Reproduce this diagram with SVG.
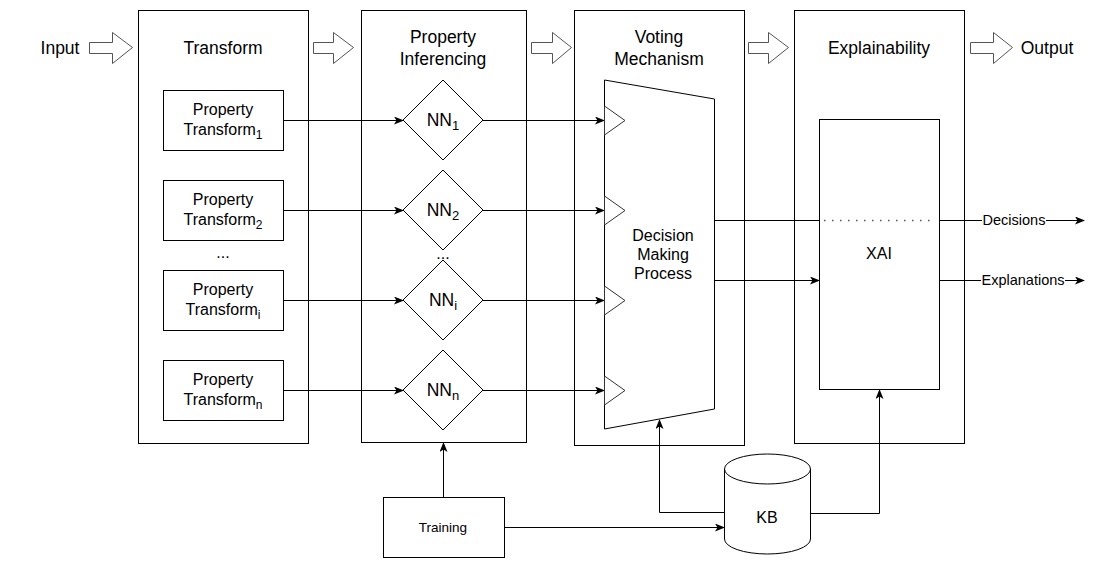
<svg xmlns="http://www.w3.org/2000/svg" width="1108" height="568" viewBox="0 0 1108 568">
<defs>
<style>
text{font-family:"Liberation Sans",Helvetica,Arial,sans-serif;fill:#000;text-anchor:middle}
.box{fill:#fff;stroke:#000;stroke-width:1}
.t{font-size:17.5px}
.p{font-size:16px}
.e{font-size:14.5px}
.blk{fill:#fff;stroke:#555;stroke-width:1}
.ln{fill:none;stroke:#000;stroke-width:1}
.arr{fill:none;stroke:#000;stroke-width:1;marker-end:url(#ah)}
</style>
<marker id="ah" viewBox="0 0 10 8" refX="9" refY="4" markerWidth="10" markerHeight="8" markerUnits="userSpaceOnUse" orient="auto">
<path d="M0,0 L10,4 L0,8 L2.5,4 z" fill="#000"/>
</marker>
</defs>
<rect width="1108" height="568" fill="#fff"/>

<g id="input">
<text class="t" x="60" y="54">Input</text>
<polygon class="blk" points="89.5,42.5 112.5,42.5 112.5,32.5 132.5,47.5 112.5,63.5 112.5,53.5 89.5,53.5"/>
</g>

<g id="transform">
<rect class="box" x="138.5" y="10.5" width="170" height="433"/>
<text class="t" x="223" y="54">Transform</text>
</g>
<g id="pt1">
<rect class="box" x="163.5" y="90.5" width="120" height="60"/>
<text class="p" x="223" y="115">Property</text>
<text class="p" x="223" y="135">Transform<tspan font-size="12" dy="4">1</tspan></text>
</g>
<g id="pt2">
<rect class="box" x="163.5" y="180.5" width="120" height="60"/>
<text class="p" x="223" y="205">Property</text>
<text class="p" x="223" y="225">Transform<tspan font-size="12" dy="4">2</tspan></text>
</g>
<text class="p" x="223" y="258">...</text>
<g id="pti">
<rect class="box" x="163.5" y="270.5" width="120" height="60"/>
<text class="p" x="223" y="295">Property</text>
<text class="p" x="223" y="315">Transform<tspan font-size="12" dy="4">i</tspan></text>
</g>
<g id="ptn">
<rect class="box" x="163.5" y="360.5" width="120" height="60"/>
<text class="p" x="223" y="385">Property</text>
<text class="p" x="223" y="405">Transform<tspan font-size="12" dy="4">n</tspan></text>
</g>

<g id="arrow2"><polygon class="blk" points="313.5,42.5 333.5,42.5 333.5,32.5 353.5,47.5 333.5,63.5 333.5,53.5 313.5,53.5"/></g>

<g id="inferencing">
<rect class="box" x="361.5" y="10.5" width="165" height="432"/>
<text class="t" x="443" y="43">Property</text>
<text class="t" x="443" y="65">Inferencing</text>
</g>
<g id="nn1">
<polygon class="box" points="443,80 483,120 443,160 403,120"/>
<text class="t" x="443" y="126">NN<tspan font-size="13" dy="4">1</tspan></text>
</g>
<g id="nn2">
<polygon class="box" points="443,170 483,210 443,250 403,210"/>
<text class="t" x="443" y="216">NN<tspan font-size="13" dy="4">2</tspan></text>
</g>
<text class="p" x="443" y="259">...</text>
<g id="nni">
<polygon class="box" points="443,260 483,300 443,340 403,300"/>
<text class="t" x="443" y="306">NN<tspan font-size="13" dy="4">i</tspan></text>
</g>
<g id="nnn">
<polygon class="box" points="443,350 483,390 443,430 403,390"/>
<text class="t" x="443" y="396">NN<tspan font-size="13" dy="4">n</tspan></text>
</g>

<g id="arrow3"><polygon class="blk" points="531.5,42.5 552.5,42.5 552.5,32.5 571.5,47.5 552.5,63.5 552.5,53.5 531.5,53.5"/></g>

<g id="voting">
<rect class="box" x="574.5" y="10.5" width="170" height="435"/>
<text class="t" x="659" y="43">Voting</text>
<text class="t" x="659" y="65">Mechanism</text>
</g>

<g id="arrow4"><polygon class="blk" points="748.5,42.5 768.5,42.5 768.5,32.5 788.5,47.5 768.5,63.5 768.5,53.5 748.5,53.5"/></g>

<g id="explainability">
<rect class="box" x="794.5" y="10.5" width="170" height="433"/>
<text class="t" x="879" y="54">Explainability</text>
</g>

<g id="arrow5"><polygon class="blk" points="970.5,42.5 993.5,42.5 993.5,32.5 1012.5,47.5 993.5,63.5 993.5,53.5 970.5,53.5"/></g>
<g id="output"><text class="t" x="1047" y="54">Output</text></g>

<g id="connectors">
<line class="arr" x1="283.5" y1="120.5" x2="403" y2="120.5"/>
<line class="arr" x1="283.5" y1="210.5" x2="403" y2="210.5"/>
<line class="arr" x1="283.5" y1="300.5" x2="403" y2="300.5"/>
<line class="arr" x1="283.5" y1="390.5" x2="403" y2="390.5"/>
<line class="arr" x1="483" y1="120.5" x2="604" y2="120.5"/>
<line class="arr" x1="483" y1="210.5" x2="604" y2="210.5"/>
<line class="arr" x1="483" y1="300.5" x2="604" y2="300.5"/>
<line class="arr" x1="483" y1="390.5" x2="604" y2="390.5"/>
<line class="ln" x1="714" y1="220.5" x2="819" y2="220.5"/>
<line class="arr" x1="714" y1="280.5" x2="819" y2="280.5"/>
<line class="arr" x1="443.5" y1="497" x2="443.5" y2="443"/>
<line class="arr" x1="504" y1="527.5" x2="724" y2="527.5"/>
<polyline class="arr" points="724,512.5 659.5,512.5 659.5,420"/>
<polyline class="arr" points="810,513.5 879.5,513.5 879.5,390"/>
<line class="ln" x1="939" y1="220.5" x2="982" y2="220.5"/>
<line class="arr" x1="1046" y1="220.5" x2="1084" y2="220.5"/>
<line class="ln" x1="939" y1="280.5" x2="981" y2="280.5"/>
<line class="arr" x1="1065" y1="280.5" x2="1084" y2="280.5"/>
</g>

<g id="decision">
<polygon class="box" points="604.5,80 714.5,99 714.5,409 604.5,429"/>
<polygon fill="#fff" stroke="#333" stroke-width="1" points="604.5,106 625,120.5 604.5,135"/>
<polygon fill="#fff" stroke="#333" stroke-width="1" points="604.5,196 625,210.5 604.5,225"/>
<polygon fill="#fff" stroke="#333" stroke-width="1" points="604.5,286 625,300.5 604.5,315"/>
<polygon fill="#fff" stroke="#333" stroke-width="1" points="604.5,376 625,390.5 604.5,405"/>
<text class="p" x="663" y="241">Decision</text>
<text class="p" x="663" y="260">Making</text>
<text class="p" x="663" y="279">Process</text>
</g>

<g id="xai">
<rect class="box" x="819.5" y="119.5" width="120" height="270"/>
<line x1="824" y1="220.5" x2="932" y2="220.5" stroke="#555" stroke-width="1.5" stroke-dasharray="1.5 6.5"/>
<text class="p" x="879" y="259">XAI</text>
</g>

<g id="labels">
<text class="e" x="1014" y="225">Decisions</text>
<text class="e" x="1023" y="285">Explanations</text>
</g>

<g id="training">
<rect class="box" x="383.5" y="497.5" width="121" height="60"/>
<text x="443" y="532" font-size="13.5px">Training</text>
</g>

<g id="kb">
<path class="box" d="M724.5,469 L724.5,539 A43,15 0 0 0 810.5,539 L810.5,469 A43,15 0 0 0 724.5,469 Z"/>
<path class="ln" d="M724.5,469 A43,15 0 0 0 810.5,469"/>
<text x="767" y="523" font-size="16px">KB</text>
</g>
</svg>
